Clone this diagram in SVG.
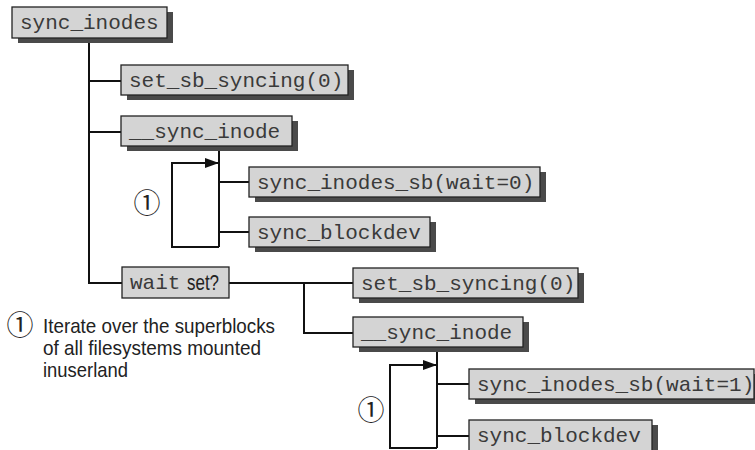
<svg xmlns="http://www.w3.org/2000/svg" width="755" height="450" viewBox="0 0 755 450">
<defs>
<style>
.sh{fill:#4a4a4a}
.bx{fill:#d4d4d4;stroke:#222;stroke-width:1.3}
.mono{font-family:"Liberation Mono","Courier New",monospace;font-size:21px;fill:#3a3a3a}
.sans{font-family:"Liberation Sans",Arial,sans-serif;fill:#222}
.ln{fill:none;stroke:#111;stroke-width:2}
.num{font-family:"Noto Sans CJK SC","DejaVu Sans",sans-serif;font-size:27px;fill:#222}
</style>
<marker id="arr" viewBox="0 0 14 10" refX="14" refY="5" markerWidth="14" markerHeight="10" markerUnits="userSpaceOnUse" orient="auto">
<path d="M0,0 L14,5 L0,10 Z" fill="#111"/>
</marker>
</defs>
<rect width="755" height="450" fill="#fff"/>
<g id="connectors">
<path class="ln" d="M89,38 V283 H122"/>
<path class="ln" d="M89,81 H121"/>
<path class="ln" d="M89,132 H121"/>
<path class="ln" d="M219,146 V247"/>
<path class="ln" d="M219,182 H249"/>
<path class="ln" d="M219,232 H249"/>
<path class="ln" d="M219,247 H172 V163 H219" marker-end="url(#arr)"/>
<path class="ln" d="M229,283 H353"/>
<path class="ln" d="M304,283 V333 H353"/>
<path class="ln" d="M437,347 V448"/>
<path class="ln" d="M437,384 H469"/>
<path class="ln" d="M437,436 H469"/>
<path class="ln" d="M437,448 H390 V365 H437" marker-end="url(#arr)"/>
</g>
<g id="n_sync_inodes">
<rect class="sh" x="18" y="12" width="155" height="31"/>
<rect class="bx" x="12" y="7" width="155" height="31"/>
<text class="mono" x="20" y="29">sync_inodes</text>
</g>
<g id="n_set_sb_syncing_1">
<rect class="sh" x="127" y="70" width="227" height="30"/>
<rect class="bx" x="121" y="65" width="227" height="30"/>
<text class="mono" x="129" y="87">set_sb_syncing(0)</text>
</g>
<g id="n_sync_inode_1">
<rect class="sh" x="127" y="121" width="171" height="30"/>
<rect class="bx" x="121" y="116" width="171" height="30"/>
<text class="mono" x="129" y="138">__sync_inode</text>
</g>
<g id="n_sync_inodes_sb_0">
<rect class="sh" x="255" y="172" width="291" height="30"/>
<rect class="bx" x="249" y="167" width="291" height="30"/>
<text class="mono" x="257" y="189">sync_inodes_sb(wait=0)</text>
</g>
<g id="n_sync_blockdev_1">
<rect class="sh" x="255" y="222" width="181" height="30"/>
<rect class="bx" x="249" y="217" width="181" height="30"/>
<text class="mono" x="257" y="239">sync_blockdev</text>
</g>
<g id="n_wait_set">
<rect class="bx" x="122" y="267" width="107" height="31"/>
<text class="mono" x="130" y="289">wait</text>
<text class="sans" font-size="22" x="187" y="290" textLength="32" lengthAdjust="spacingAndGlyphs">set?</text>
</g>
<g id="n_set_sb_syncing_2">
<rect class="sh" x="359" y="273" width="225" height="30"/>
<rect class="bx" x="353" y="268" width="225" height="30"/>
<text class="mono" x="361" y="290">set_sb_syncing(0)</text>
</g>
<g id="n_sync_inode_2">
<rect class="sh" x="359" y="322" width="170" height="30"/>
<rect class="bx" x="353" y="317" width="170" height="30"/>
<text class="mono" x="361" y="339">__sync_inode</text>
</g>
<g id="n_sync_inodes_sb_1">
<rect class="sh" x="475" y="374" width="285" height="30"/>
<rect class="bx" x="469" y="369" width="285" height="30"/>
<text class="mono" x="477" y="391">sync_inodes_sb(wait=1)</text>
</g>
<g id="n_sync_blockdev_2">
<rect class="sh" x="475" y="425" width="183" height="30"/>
<rect class="bx" x="469" y="420" width="183" height="32"/>
<text class="mono" x="477" y="442">sync_blockdev</text>
</g>
<g id="loop_labels">
<text class="num" x="147" y="213" text-anchor="middle">①</text>
<text class="num" x="371" y="420" text-anchor="middle">①</text>
</g>
<g id="legend">
<text class="num" x="20" y="335" text-anchor="middle">①</text>
<text class="sans" font-size="21" x="43" y="333" textLength="232" lengthAdjust="spacingAndGlyphs">Iterate over the superblocks</text>
<text class="sans" font-size="21" x="43" y="355" textLength="218" lengthAdjust="spacingAndGlyphs">of all filesystems mounted</text>
<text class="sans" font-size="21" x="43" y="377" textLength="85" lengthAdjust="spacingAndGlyphs">inuserland</text>
</g>
</svg>
